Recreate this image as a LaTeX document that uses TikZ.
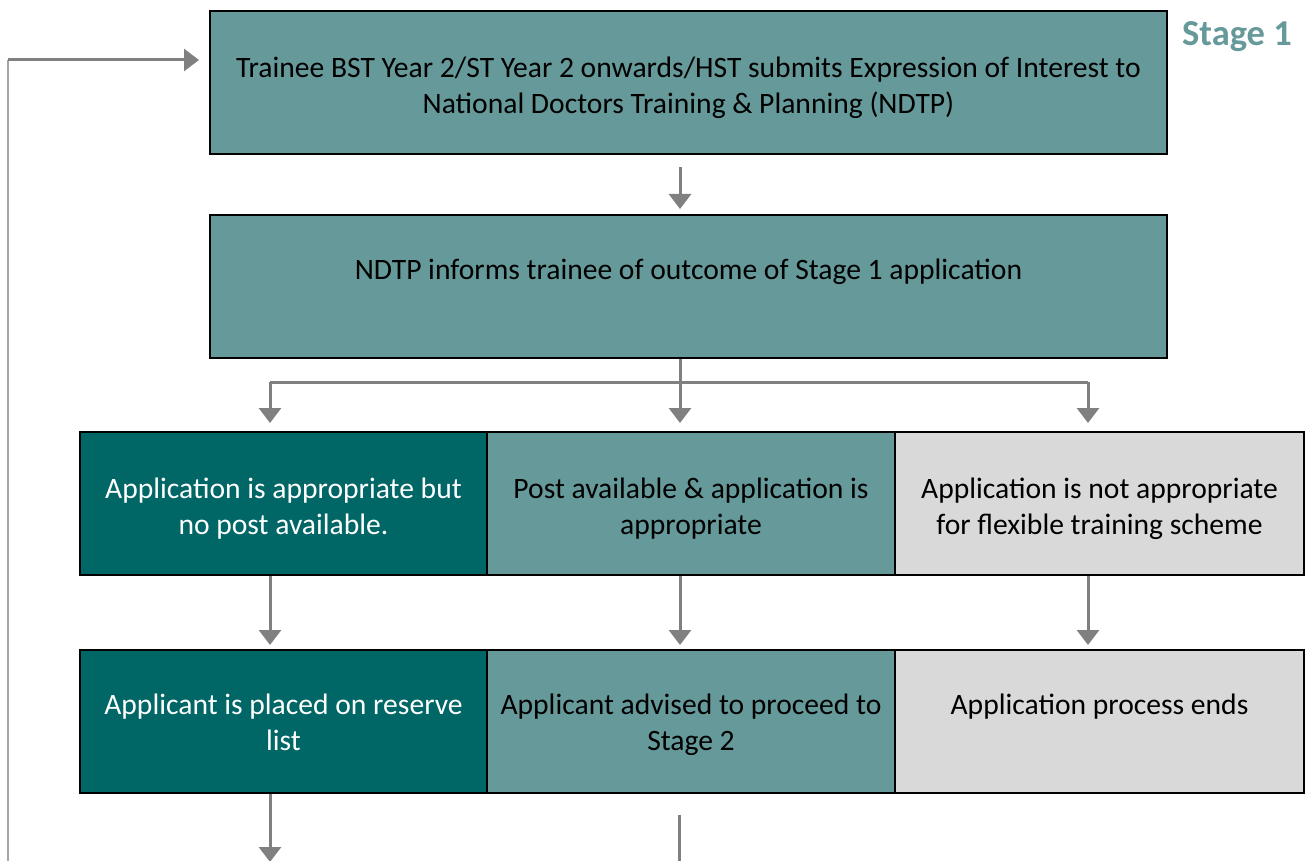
\documentclass[tikz,border=0pt]{standalone}
\usepackage{fontspec}
\setmainfont{Carlito}
\usetikzlibrary{arrows.meta}
\definecolor{tealL}{RGB}{102,153,153}
\definecolor{tealD}{RGB}{0,102,102}
\definecolor{grayB}{RGB}{217,217,217}
\definecolor{arrG}{RGB}{128,128,128}
\definecolor{loopG}{RGB}{166,166,166}
\tikzset{
  box/.style={draw=black, line width=2pt, minimum width=#1, minimum height=143pt, inner sep=0pt, anchor=north west},
  txt/.style={anchor=north, align=center, font=\fontsize{29.6}{36}\selectfont, inner sep=0pt},
  conn/.style={draw=arrG, line width=3pt},
  arr/.style={conn, -{Triangle[length=15pt,width=22pt]}},
}
\begin{document}
\begin{tikzpicture}[x=1pt,y=-1pt]
\useasboundingbox (0,0) rectangle (1306,861);
% boxes
\node[box=957pt, fill=tealL] (b1) at (209,10) {};
\node[box=957pt, fill=tealL, minimum height=143pt] (b2) at (209,214) {};
\node[box=407pt, fill=tealD] (r1a) at (79,431) {};
\node[box=408pt, fill=tealL] (r1b) at (486,431) {};
\node[box=409pt, fill=grayB] (r1c) at (894,431) {};
\node[box=407pt, fill=tealD] (r2a) at (79,649) {};
\node[box=408pt, fill=tealL] (r2b) at (486,649) {};
\node[box=409pt, fill=grayB] (r2c) at (894,649) {};
% texts
\node[txt] (t1) at ([yshift=-47pt]b1.north) {Trainee BST Year 2/ST Year 2 onwards/HST submits Expression of Interest to\\National Doctors Training \& Planning (NDTP)};
\node[txt] (t2) at ([yshift=-45pt]b2.north) {NDTP informs trainee of outcome of Stage 1 application};
\node[txt, text=white] (t3) at ([yshift=-47pt]r1a.north) {Application is appropriate but\\no post available.};
\node[txt] (t4) at ([yshift=-47pt]r1b.north) {Post available \& application is\\appropriate};
\node[txt] (t5) at ([yshift=-47pt]r1c.north) {Application is not appropriate\\for flexible training scheme};
\node[txt, text=white] (t6) at ([yshift=-45pt]r2a.north) {Applicant is placed on reserve\\list};
\node[txt] (t7) at ([yshift=-45pt]r2b.north) {Applicant advised to proceed to\\Stage 2};
\node[txt] (t8) at ([yshift=-45pt]r2c.north) {Application process ends};
\node[anchor=center, text=tealL, font=\fontsize{36.5}{40}\selectfont\bfseries] (stage) at (1237,37) {Stage 1};
% coordinates
\coordinate (xL) at (270,0);
\coordinate (xM) at (680,0);
\coordinate (xR) at (1088,0);
\coordinate (yB) at (0,382);
\coordinate (loopbot) at (8,861);
\coordinate (looptop) at (8,60);
\coordinate (botL) at (270,861);
\coordinate (midA) at (679,815);
\coordinate (midB) at (679,861);
% connectors
\draw[arr, shorten <=12pt, shorten >=5pt] (b1.south -| xM) -- (b2.north -| xM);
\draw[conn] (b2.south -| xM) -- (xM |- yB);
\draw[conn] (xL |- yB) -- (xR |- yB);
\draw[arr, shorten >=8pt] (xL |- yB) -- (r1a.north -| xL);
\draw[arr, shorten >=8pt] (xM |- yB) -- (r1b.north -| xM);
\draw[arr, shorten >=8pt] (xR |- yB) -- (r1c.north -| xR);
\draw[arr, shorten >=4pt] (r1a.south -| xL) -- (r2a.north -| xL);
\draw[arr, shorten >=4pt] (r1b.south -| xM) -- (r2b.north -| xM);
\draw[arr, shorten >=4pt] (r1c.south -| xR) -- (r2c.north -| xR);
\draw[arr, shorten >=-1pt] (r2a.south -| xL) -- (botL);
\draw[conn] (midA) -- (midB);
\draw[draw=loopG, line width=2pt] (loopbot) -- (looptop);
\draw[arr, shorten >=10pt] (looptop) -- (b1.west |- looptop);
\end{tikzpicture}
\end{document}
